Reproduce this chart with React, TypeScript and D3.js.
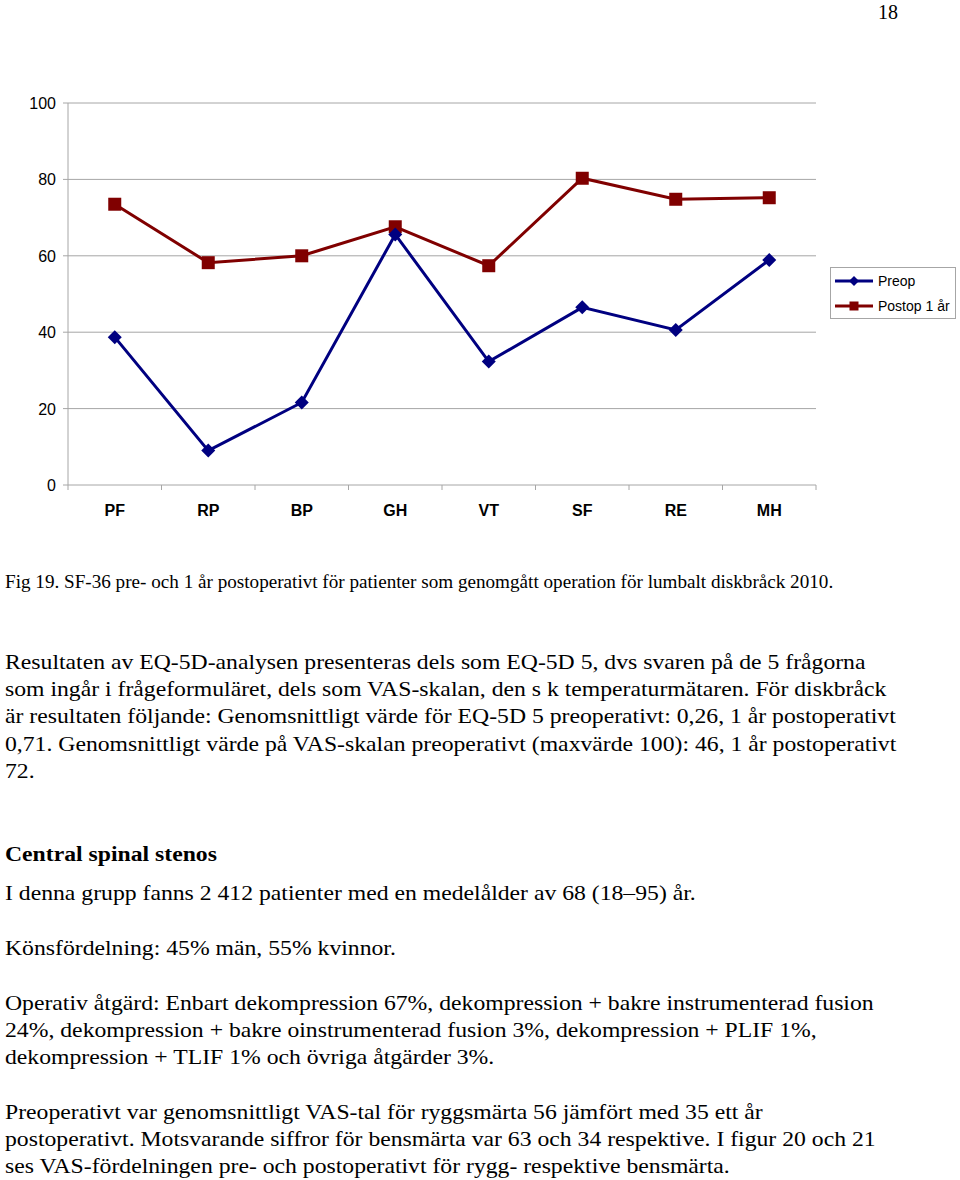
import React from "react";
import * as d3 from "d3";

const categories = ["PF", "RP", "BP", "GH", "VT", "SF", "RE", "MH"];
const preop = [38.7, 9.0, 21.6, 65.6, 32.3, 46.5, 40.6, 58.9];
const postop = [73.5, 58.2, 60.0, 67.6, 57.4, 80.3, 74.8, 75.2];
const yTicks = [0, 20, 40, 60, 80, 100];
const seriesNames = ["Preop", "Postop 1 år"];

const caption =
  "Fig 19. SF-36 pre- och 1 år postoperativt för patienter som genomgått operation för lumbalt diskbråck 2010.";
const para1 = [
  "Resultaten av EQ-5D-analysen presenteras dels som EQ-5D 5, dvs svaren på de 5 frågorna",
  "som ingår i frågeformuläret, dels som VAS-skalan, den s k temperaturmätaren. För diskbråck",
  "är resultaten följande: Genomsnittligt värde för EQ-5D 5 preoperativt: 0,26, 1 år postoperativt",
  "0,71. Genomsnittligt värde på VAS-skalan preoperativt (maxvärde 100): 46, 1 år postoperativt",
  "72.",
];
const heading = "Central spinal stenos";
const para2 = ["I denna grupp fanns 2 412 patienter med en medelålder av 68 (18–95) år."];
const para3 = ["Könsfördelning: 45% män, 55% kvinnor."];
const para4 = [
  "Operativ åtgärd: Enbart dekompression 67%, dekompression + bakre instrumenterad fusion",
  "24%, dekompression + bakre oinstrumenterad fusion 3%, dekompression + PLIF 1%,",
  "dekompression + TLIF 1% och övriga åtgärder 3%.",
];
const para5 = [
  "Preoperativt var genomsnittligt VAS-tal för ryggsmärta 56 jämfört med 35 ett år",
  "postoperativt. Motsvarande siffror för bensmärta var 63 och 34 respektive. I figur 20 och 21",
  "ses VAS-fördelningen pre- och postoperativt för rygg- respektive bensmärta.",
];

const W = 960;
const H = 1180;
const plot = { left: 68, right: 816, top: 103, bottom: 485 };
const NAVY = "#000080";
const MAROON = "#800000";
const serif = "'Liberation Serif', 'Times New Roman', serif";
const sans = "'Liberation Sans', Arial, sans-serif";
const BODY_SIZE = 22;
const BODY_SX = 1.077;
const LH = 27.2;

export default function App() {
  const x = d3
    .scaleBand<string>()
    .domain(categories)
    .range([plot.left, plot.right])
    .paddingInner(0)
    .paddingOuter(0);
  const y = d3.scaleLinear().domain([0, 100]).range([plot.bottom, plot.top]);
  const cx = (c: string) => (x(c) as number) + x.bandwidth() / 2;

  const line = d3
    .line<number>()
    .x((_, i) => cx(categories[i]))
    .y((v) => y(v));

  const diamond = (px: number, py: number, r: number) =>
    `M${px},${py - r}L${px + r},${py}L${px},${py + r}L${px - r},${py}Z`;

  const boundaries = d3.range(categories.length + 1).map((i) => plot.left + i * x.bandwidth());

  const bodyLine = (t: string, yy: number, key: string, weight = "normal") => (
    <text
      key={key}
      x={0}
      y={yy}
      transform={`translate(5,0) scale(${BODY_SX},1)`}
      fontFamily={serif}
      fontSize={BODY_SIZE}
      fontWeight={weight}
      fill="#000"
    >
      {t}
    </text>
  );

  return (
    <svg
      width={W}
      height={H}
      viewBox={`0 0 ${W} ${H}`}
      style={{ position: "absolute", left: 0, top: 0, background: "#fff" }}
    >
      <rect x={0} y={0} width={W} height={H} fill="#fff" />
      <text x={878} y={19} fontFamily={serif} fontSize={20} fill="#000">
        18
      </text>

      {/* gridlines */}
      {yTicks.map((t) => (
        <g key={t}>
          <line x1={plot.left} x2={plot.right} y1={y(t)} y2={y(t)} stroke="#a6a6a6" strokeWidth={1} />
          <line x1={plot.left - 5} x2={plot.left} y1={y(t)} y2={y(t)} stroke="#a6a6a6" strokeWidth={1} />
          <text x={56} y={y(t) + 6} textAnchor="end" fontFamily={sans} fontSize={16} fill="#000">
            {t}
          </text>
        </g>
      ))}
      <line x1={plot.left} x2={plot.left} y1={plot.top} y2={plot.bottom} stroke="#a6a6a6" strokeWidth={1} />
      {boundaries.map((b, i) => (
        <line key={i} x1={b} x2={b} y1={plot.bottom} y2={plot.bottom + 5} stroke="#a6a6a6" strokeWidth={1} />
      ))}
      {categories.map((c) => (
        <text
          key={c}
          x={cx(c)}
          y={plot.bottom + 31}
          textAnchor="middle"
          fontFamily={sans}
          fontWeight="bold"
          fontSize={16}
          fill="#000"
        >
          {c}
        </text>
      ))}

      {/* series */}
      <path d={line(postop) || ""} fill="none" stroke={MAROON} strokeWidth={3} />
      {postop.map((v, i) => (
        <rect key={i} x={cx(categories[i]) - 6.5} y={y(v) - 6.5} width={13} height={13} fill={MAROON} />
      ))}
      <path d={line(preop) || ""} fill="none" stroke={NAVY} strokeWidth={3} />
      {preop.map((v, i) => (
        <path key={i} d={diamond(cx(categories[i]), y(v), 7)} fill={NAVY} />
      ))}

      {/* legend */}
      <rect x={830.5} y={267.5} width={125} height={51} fill="#fff" stroke="#a6a6a6" strokeWidth={1} />
      <line x1={835} x2={873} y1={281} y2={281} stroke={NAVY} strokeWidth={3} />
      <path d={diamond(854, 281, 5)} fill={NAVY} />
      <text x={878} y={286} fontFamily={sans} fontSize={14} fill="#000">
        {seriesNames[0]}
      </text>
      <line x1={835} x2={873} y1={306} y2={306} stroke={MAROON} strokeWidth={3} />
      <rect x={849.5} y={301.5} width={9} height={9} fill={MAROON} />
      <text x={878} y={311} fontFamily={sans} fontSize={14} fill="#000">
        {seriesNames[1]}
      </text>

      {/* text */}
      <text x={5} y={588} fontFamily={serif} fontSize={19.15} fill="#000">
        {caption}
      </text>
      {para1.map((t, i) => bodyLine(t, 669 + i * LH, "p1" + i))}
      {bodyLine(heading, 861, "h", "bold")}
      {para2.map((t, i) => bodyLine(t, 900 + i * LH, "p2" + i))}
      {para3.map((t, i) => bodyLine(t, 955 + i * LH, "p3" + i))}
      {para4.map((t, i) => bodyLine(t, 1010 + i * LH, "p4" + i))}
      {para5.map((t, i) => bodyLine(t, 1119 + i * LH, "p5" + i))}
    </svg>
  );
}
